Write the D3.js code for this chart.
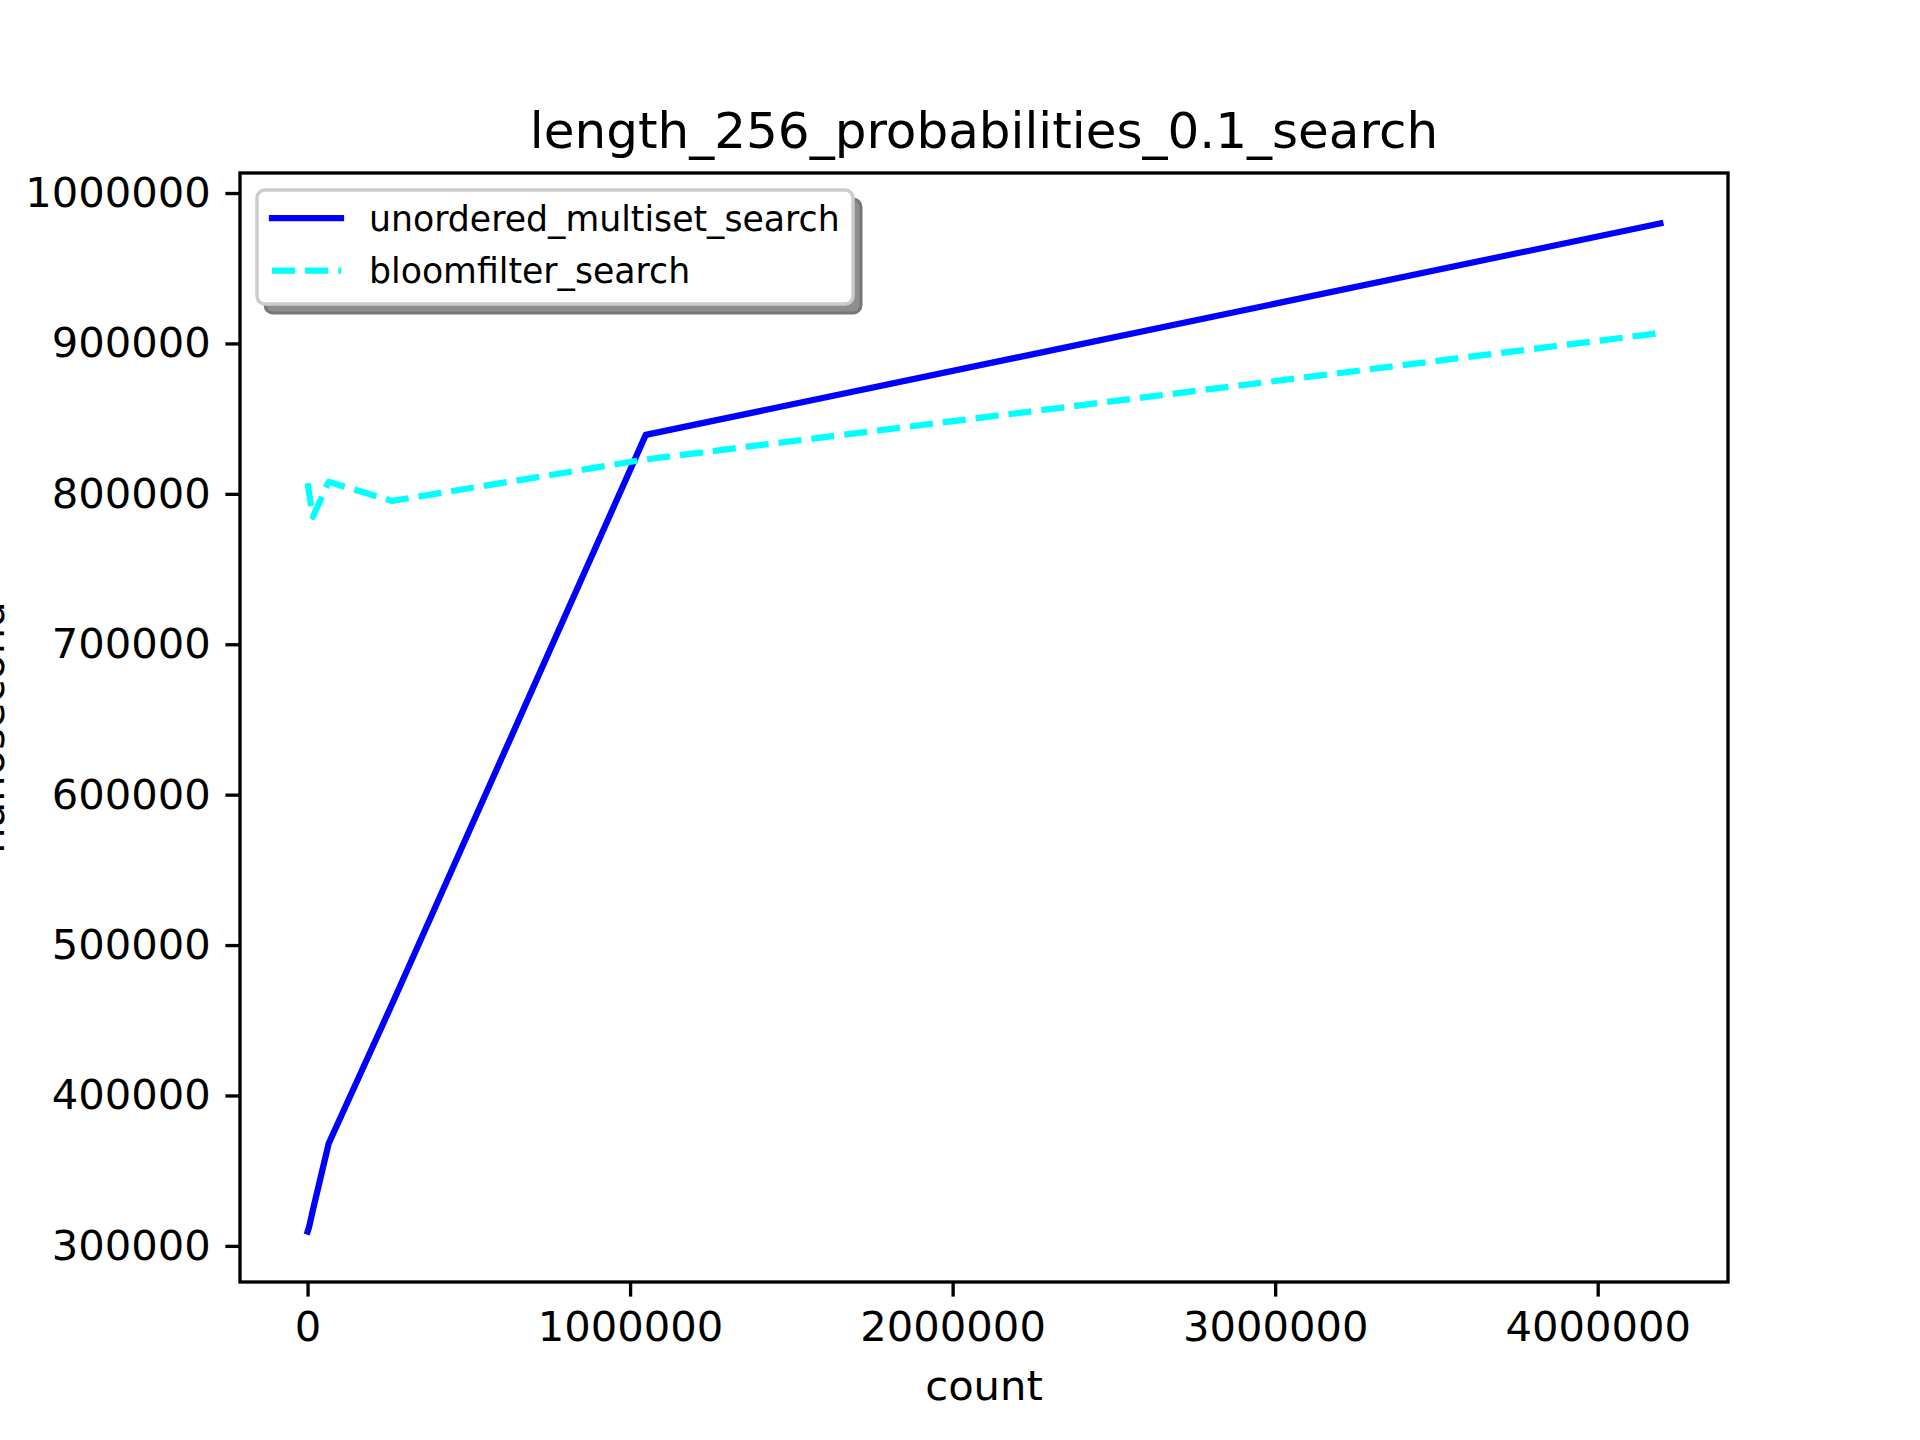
<html>
<head>
  <title>length_256_probabilities_0.1_search</title>
  <script src="https://d3js.org/d3.v7.min.js"></script>
  <style>
    body { margin: 0; background: #fff; }
    text { font-family: 'DejaVu Sans', sans-serif; fill: #000; }
    .axis path, .axis line { stroke: #000; stroke-width: 3.33; }
    .axis text { font-size: 41.67px; }
  </style>
</head>
<body>
<div id="chart"></div>
<script type="text/javascript">

  /*--- Data ---*/
  var counts = [256, 1024, 4096, 16384, 65536, 262144, 1048576, 4194304];
  var multisetTimes = [309500, 310000, 312000, 323700, 368100, 460800, 839200, 979800];
  var bloomTimes = [807100, 806000, 801500, 784700, 808000, 795300, 822900, 906900];
  var seriesNames = ["unordered_multiset_search", "bloomfilter_search"];
  var xTicks = [0, 1000000, 2000000, 3000000, 4000000];
  var yTicks = [300000, 400000, 500000, 600000, 700000, 800000, 900000, 1000000];

  /*--- Plot box (pixels) ---*/
  var W = 1920, H = 1440,
    plotL = 240, plotR = 1728, plotT = 173, plotB = 1282;

  // matplotlib style 5% margins
  function padded(vals) {
    var lo = d3.min(vals), hi = d3.max(vals), m = (hi - lo) * 0.05;
    return [lo - m, hi + m];
  }

  var x = d3.scaleLinear().domain(padded(counts)).range([plotL, plotR]),
    y = d3.scaleLinear().domain(padded(multisetTimes.concat(bloomTimes))).range([plotB, plotT]);

  var svg = d3.select("#chart").append("svg")
    .attr("width", W).attr("height", H);

  svg.append("rect").attr("width", W).attr("height", H).attr("fill", "#fff");

  /*--- Lines ---*/
  var line = d3.line()
    .x(function (d) { return x(d[0]); })
    .y(function (d) { return y(d[1]); });

  svg.append("path")
    .datum(d3.zip(counts, multisetTimes))
    .attr("d", line)
    .attr("fill", "none")
    .attr("stroke", "#0000ff")
    .attr("stroke-width", 6.25)
    .attr("stroke-linejoin", "round")
    .attr("stroke-linecap", "square");

  svg.append("path")
    .datum(d3.zip(counts, bloomTimes))
    .attr("d", line)
    .attr("fill", "none")
    .attr("stroke", "#00ffff")
    .attr("stroke-width", 6.25)
    .attr("stroke-linejoin", "round")
    .attr("stroke-dasharray", "23.1,10");

  /*--- Axes ---*/
  var fmt = d3.format("d");

  svg.append("g").attr("class", "axis")
    .attr("transform", "translate(0," + plotB + ")")
    .call(d3.axisBottom(x).tickValues(xTicks).tickFormat(fmt).tickSize(14.6).tickPadding(14.6).tickSizeOuter(0))
    .call(function (g) { g.select(".domain").remove(); });

  svg.append("g").attr("class", "axis")
    .attr("transform", "translate(" + plotL + ",0)")
    .call(d3.axisLeft(y).tickValues(yTicks).tickFormat(fmt).tickSize(14.6).tickPadding(14.6).tickSizeOuter(0))
    .call(function (g) { g.select(".domain").remove(); });

  svg.selectAll(".axis text").attr("fill", "#000");

  // frame
  svg.append("rect")
    .attr("x", plotL).attr("y", plotT)
    .attr("width", plotR - plotL).attr("height", plotB - plotT)
    .attr("fill", "none").attr("stroke", "#000").attr("stroke-width", 3.33);

  /*--- Titles ---*/
  svg.append("text")
    .attr("x", (plotL + plotR) / 2).attr("y", 148)
    .attr("text-anchor", "middle")
    .style("font-size", "50px")
    .text("length_256_probabilities_0.1_search");

  svg.append("text")
    .attr("x", (plotL + plotR) / 2).attr("y", 1400)
    .attr("text-anchor", "middle")
    .style("font-size", "41.67px")
    .text("count");

  svg.append("text")
    .attr("transform", "translate(4," + ((plotT + plotB) / 2) + ") rotate(-90)")
    .attr("text-anchor", "middle")
    .style("font-size", "41.67px")
    .text("nanosecond");

  /*--- Legend ---*/
  var lg = svg.append("g"),
    lx = 257, ly = 190, lw = 596, lh = 114;

  lg.append("rect")
    .attr("x", lx + 8).attr("y", ly + 9)
    .attr("width", lw).attr("height", lh)
    .attr("rx", 8)
    .attr("fill", "#8e8e8e").attr("stroke", "#777").attr("stroke-width", 3);

  lg.append("rect")
    .attr("x", lx).attr("y", ly)
    .attr("width", lw).attr("height", lh)
    .attr("rx", 8)
    .attr("fill", "#fff").attr("stroke", "#cccccc").attr("stroke-width", 3.5);

  var styles = [{ c: "#0000ff", dash: null }, { c: "#00ffff", dash: "23.1,10" }];

  seriesNames.forEach(function (name, i) {
    var cy = 218 + i * 52.5;
    lg.append("line")
      .attr("x1", 272).attr("x2", 341)
      .attr("y1", cy).attr("y2", cy)
      .attr("stroke", styles[i].c)
      .attr("stroke-width", 6.25)
      .attr("stroke-dasharray", styles[i].dash)
      .attr("stroke-linecap", styles[i].dash ? "butt" : "square");
    lg.append("text")
      .attr("x", 369).attr("y", cy + 12.5)
      .style("font-size", "34.7px")
      .text(name);
  });

</script>
</body>
</html>
